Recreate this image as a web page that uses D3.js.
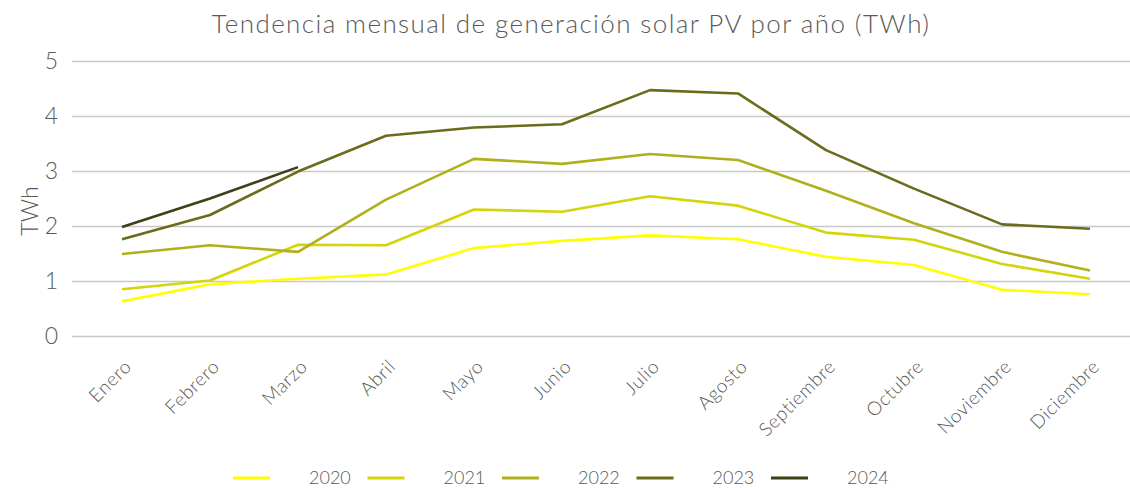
<!DOCTYPE html>
<html lang="es">
  <head>
    <meta charset="utf-8">
    <title>Tendencia mensual solar PV</title>
    <style type="text/css">
      body{
        margin: 0;
        background-color: white;
        font-family: Lato, 'Noto Sans', sans-serif;
        font-weight: 300;
      }
      .grid line{
        stroke: #c8c8c8;
        stroke-width: 1.3px;
      }
      .grid path{
        display: none;
      }
      .axis text{
        fill: #595959;
        font-family: Lato, 'Noto Sans', sans-serif;
        font-weight: 300;
      }
      .axis path, .axis line{
        display: none;
      }
    </style>
  </head>
  <body>
    <div id='svg_container'></div>

    <script src="https://d3js.org/d3.v7.min.js"></script>
    <script type="text/javascript">

      const months = ['Enero','Febrero','Marzo','Abril','Mayo','Junio','Julio','Agosto','Septiembre','Octubre','Noviembre','Diciembre'];
      const years = ['2020','2021','2022','2023','2024'];
      const yTicks = [0, 1, 2, 3, 4, 5];

      const v2020 = [0.63, 0.94, 1.04, 1.12, 1.60, 1.73, 1.83, 1.76, 1.44, 1.29, 0.84, 0.76];
      const v2021 = [0.85, 1.01, 1.66, 1.65, 2.30, 2.26, 2.54, 2.37, 1.88, 1.75, 1.31, 1.04];
      const v2022 = [1.49, 1.65, 1.53, 2.48, 3.22, 3.13, 3.31, 3.20, 2.64, 2.05, 1.53, 1.19];
      const v2023 = [1.76, 2.20, 2.99, 3.64, 3.79, 3.85, 4.47, 4.41, 3.38, 2.68, 2.03, 1.95];
      const v2024 = [1.98, 2.50, 3.07];

      const series = [v2020, v2021, v2022, v2023, v2024];
      const colors = ['#ffff00', '#d4d40c', '#b0b01e', '#6b6b1c', '#3f3f18'];

      const W = 1130, H = 488;
      const svg = d3.select('#svg_container').append('svg').attr('width', W).attr('height', H);

      const x = d3.scaleBand().domain(months).range([78, 1134]);
      const y = d3.scaleLinear().domain([0, 5]).range([336, 61]);

      // grid
      svg.append('g').attr('class','grid')
        .attr('transform','translate(72,0)')
        .call(d3.axisLeft(y).tickValues(yTicks).tickSize(-(1130 - 72)).tickFormat(''));

      // y axis labels
      svg.append('g').attr('class','axis')
        .attr('transform','translate(72,0)')
        .call(d3.axisLeft(y).tickValues(yTicks).tickSize(0).tickPadding(14).tickFormat(d3.format('d')))
        .selectAll('text').style('font-size','23px');

      // x axis labels
      svg.append('g').attr('class','axis')
        .attr('transform','translate(0,336)')
        .call(d3.axisBottom(x).tickSize(0).tickPadding(0))
        .selectAll('text')
          .style('font-size','19px')
          .style('letter-spacing','0.6px')
          .attr('text-anchor','end')
          .attr('dy','0.35em')
          .attr('transform','translate(6,27) rotate(-45)');

      // y axis title
      svg.append('text').text('TWh')
        .attr('transform','translate(38,211) rotate(-90)')
        .attr('text-anchor','middle')
        .style('font-size','23px').style('fill','#595959');

      // title
      svg.append('text').text('Tendencia mensual de generación solar PV por año (TWh)')
        .attr('x', 571).attr('y', 33)
        .attr('text-anchor','middle')
        .style('font-size','26px').style('letter-spacing','1.4px')
        .style('fill','#595959');

      const line = d3.line()
        .x((d, i) => x(months[i]) + x.bandwidth() / 2)
        .y(d => y(d));

      svg.selectAll('.series').data(series).enter().append('path')
        .attr('class','series')
        .attr('d', d => line(d))
        .attr('fill','none')
        .attr('stroke', (d, i) => colors[i])
        .attr('stroke-width', 2.6)
        .attr('stroke-linejoin','round');

      // legend
      const leg = svg.append('g').attr('transform','translate(233,478)');
      const items = leg.selectAll('g').data(years).enter().append('g')
        .attr('transform', (d, i) => 'translate(' + (i * 134.5) + ',0)');
      items.append('line')
        .attr('x1', 0).attr('x2', 37).attr('y1', 0).attr('y2', 0)
        .attr('stroke', (d, i) => colors[i]).attr('stroke-width', 3);
      items.append('text').text(d => d)
        .attr('x', 76).attr('y', 0).attr('dy','0.35em')
        .style('font-size','18px').style('fill','#595959');

    </script>
  </body>
</html>
